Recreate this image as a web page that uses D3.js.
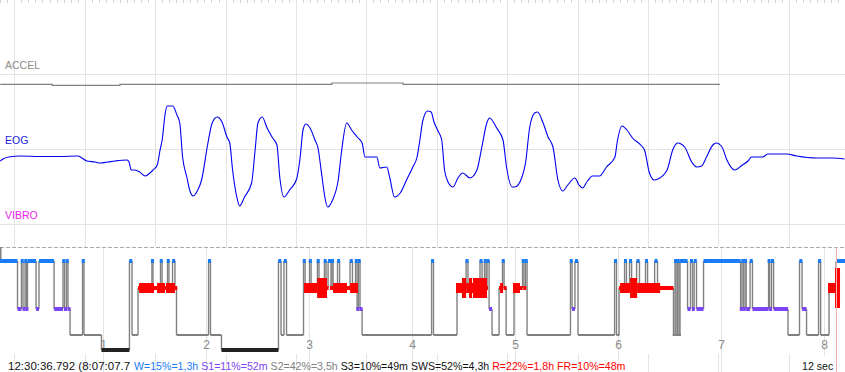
<!DOCTYPE html>
<html>
<head>
<meta charset="utf-8">
<script src="https://cdn.jsdelivr.net/npm/d3@7"></script>
<style>
  body { margin: 0; background: #fff; }
  svg { display: block; font-family: "Liberation Sans", Arial, sans-serif; }
</style>
</head>
<body>
<svg id="chart"></svg>
<script>
// ---- data ----
// 12 second window, seconds from the first full second on screen
const accelSamples = [[-0.2, 0], [0.54, -1], [1.5, 0], [4.51, 1.3], [5.52, 0], [10.02, 0]];

const eogSamples = [
  [-0.20,-48],[-0.16,-40],[-0.06,-31],[0.08,-28],[0.37,-30],[0.65,-30],[0.90,-28],[0.96,-36],
  [1.03,-48],[1.15,-52],[1.22,-56],[1.33,-52],[1.43,-48],[1.60,-44],[1.63,-52],[1.66,-84],
  [1.71,-84],[1.78,-92],[1.86,-108],[1.91,-100],[1.97,-84],[2.03,-64],[2.07,-4],[2.10,36],
  [2.14,136],[2.17,172],[2.25,172],[2.31,136],[2.35,104],[2.39,-32],[2.45,-112],[2.49,-164],
  [2.54,-188],[2.59,-172],[2.66,-124],[2.74,8],[2.81,104],[2.88,128],[2.95,108],[3.02,48],
  [3.06,24],[3.10,-84],[3.16,-192],[3.20,-228],[3.27,-192],[3.37,-136],[3.42,-4],[3.46,104],
  [3.52,128],[3.59,84],[3.66,48],[3.73,16],[3.77,-112],[3.83,-192],[3.91,-164],[4.01,-120],
  [4.06,-32],[4.10,76],[4.14,100],[4.20,84],[4.27,36],[4.31,8],[4.37,-112],[4.41,-192],
  [4.45,-232],[4.52,-204],[4.60,-124],[4.65,-4],[4.72,104],[4.79,76],[4.87,48],[4.94,24],
  [4.98,-32],[5.15,-32],[5.19,-76],[5.29,-72],[5.33,-112],[5.40,-192],[5.48,-176],[5.57,-124],
  [5.66,-72],[5.72,-32],[5.76,36],[5.80,112],[5.87,152],[5.92,148],[5.96,108],[6.01,76],
  [6.07,36],[6.11,-84],[6.16,-132],[6.23,-152],[6.30,-116],[6.37,-96],[6.47,-116],[6.57,-84],
  [6.64,8],[6.71,104],[6.75,124],[6.85,84],[6.94,36],[6.99,-72],[7.07,-152],[7.11,-152],
  [7.21,-112],[7.26,-56],[7.32,88],[7.39,144],[7.43,148],[7.51,104],[7.58,48],[7.65,8],
  [7.72,-124],[7.79,-168],[7.86,-144],[7.96,-116],[8.02,-144],[8.07,-156],[8.14,-128],[8.21,-108],
  [8.31,-108],[8.41,-72],[8.53,-32],[8.56,24],[8.63,92],[8.70,76],[8.78,44],[8.91,12],
  [8.95,-4],[9.02,-96],[9.09,-124],[9.14,-120],[9.27,-84],[9.35,-4],[9.42,24],[9.52,8],
  [9.62,-52],[9.69,-72],[9.76,-68],[9.83,-32],[9.92,16],[9.97,24],[10.05,8],[10.12,-44],
  [10.23,-84],[10.34,-64],[10.42,-48],[10.47,-32],[10.63,-32],[10.70,-20],[10.97,-20],[11.11,-28],
  [11.39,-36],[11.62,-36],[11.79,-40]
];

const channelNames = ["ACCEL", "EOG", "VIBRO"];

// hypnogram: [start minute, stage]; each run lasts until the next one starts
const stageNames = ["W", "R", "S1", "S2", "S3"];
const recordEnd = 492.2;
const hypnoRuns = [
  [0,"W"],[10.2,"S1"],[12.5,"W"],[13.4,"S1"],[14.6,"W"],[15.4,"S1"],[16.0,"W"],[21.0,"S1"],
  [22.7,"W"],[31.5,"S1"],[36.7,"W"],[37.6,"S1"],[38.7,"W"],[39.6,"S1"],[40.8,"S2"],[48.1,"W"],
  [48.9,"S2"],[59.1,"S3"],[75.4,"W"],[76.9,"S2"],[80.4,"R"],[88.5,"W"],[89.1,"R"],[93.5,"W"],
  [94.4,"R"],[97.6,"W"],[98.4,"R"],[100.5,"W"],[101.9,"R"],[102.8,"S2"],[121.5,"W"],[122.6,"S2"],
  [129.0,"S3"],[162.2,"W"],[163.7,"S2"],[165.4,"W"],[166.9,"S2"],[176.8,"W"],[177.7,"R"],[180.3,"W"],
  [181.2,"R"],[184.9,"W"],[185.8,"R"],[189.0,"W"],[189.9,"R"],[191.1,"W"],[192.8,"R"],[193.4,"W"],
  [194.0,"R"],[196.6,"W"],[197.8,"R"],[203.9,"W"],[205.3,"R"],[207.1,"W"],[208.0,"S1"],[208.8,"W"],
  [209.7,"S1"],[210.9,"S2"],[251.4,"W"],[252.5,"S2"],[266.2,"R"],[271.5,"W"],[272.6,"R"],[279.6,"W"],
  [280.8,"R"],[282.2,"W"],[283.1,"R"],[283.7,"W"],[284.9,"S1"],[286.6,"S2"],[290.7,"R"],[292.7,"W"],
  [293.6,"R"],[294.8,"S2"],[299.4,"R"],[304.4,"W"],[305.2,"R"],[306.1,"W"],[307.0,"S2"],[332.3,"W"],
  [333.2,"S1"],[334.9,"W"],[336.7,"S2"],[358.0,"W"],[359.1,"S2"],[360.6,"R"],[363.8,"W"],[364.9,"R"],
  [366.7,"W"],[367.9,"R"],[370.8,"W"],[372.5,"R"],[376.0,"W"],[377.2,"R"],[381.3,"W"],[383.0,"R"],
  [392.3,"S2"],[393.2,"W"],[393.8,"S2"],[394.7,"W"],[395.5,"S2"],[396.1,"W"],[400.5,"S1"],[402.2,"W"],
  [403.4,"S1"],[404.3,"W"],[405.7,"S1"],[409.8,"W"],[431.4,"S1"],[432.2,"W"],[433.1,"S1"],[434.0,"W"],
  [434.6,"S1"],[436.9,"W"],[438.3,"S1"],[447.7,"W"],[448.3,"S1"],[449.4,"W"],[450.6,"S1"],[459.0,"S2"],
  [465.7,"W"],[467.2,"S1"],[469.8,"S2"],[476.8,"W"],[478.0,"S2"],[482.9,"R"],[487.0,"W"]
];

// REM intensity blocks: [start minute, end minute, level 1..3]
const remDensity = [
  [81.0,89.7,1],[91.5,96.1,1],[96.7,101.9,1],[177.1,184.7,1],[184.7,190.5,2],[194.0,202.1,1],
  [203.9,208.5,1],[265.6,269.1,1],[269.1,271.5,2],[271.5,273.2,1],[273.2,274.9,2],[274.9,275.5,1],
  [275.5,283.7,2],[291.3,293.0,1],[298.8,302.9,1],[361.2,367.0,1],[367.0,371.1,2],[371.1,384.5,1],
  [482.3,486.4,1],[486.4,489.3,3]
];

const hourTicks = [1, 2, 3, 4, 5, 6, 7, 8];
const cursorMinute = 487.13;
const cursorLabel = "12:30:36.792 (8:07:07.7";
const summaryLabels = ["W=15%=1,3h", "S1=11%=52m", "S2=42%=3,5h", "S3=10%=49m", "SWS=52%=4,3h", "R=22%=1,8h", "FR=10%=48m"];
const summaryColors = ["#1a7cf5", "#7b44f5", "#808080", "#111", "#111", "#ff0000", "#ff0000"];
const windowLabel = "12 sec";

// ---- layout ----
const width = 845, height = 372;
const hypTop = 247, hypBottom = 354;

const svg = d3.select("#chart").attr("width", width).attr("height", height);

const xSec = d3.scaleLinear().domain([-0.203, 11.797]).range([0, width]);
const xMin = d3.scaleLinear().domain([0, recordEnd]).range([0, width]);
const yAccel = d3.scaleLinear().domain([-10, 10]).range([94.3, 74.3]);
const yEog = d3.scaleLinear().domain([-300, 300]).range([224, 74]);
const yStage = d3.scaleOrdinal().domain(stageNames).range([261, 288, 309, 335, 350]);
const stageColor = d3.scaleOrdinal().domain(stageNames)
  .range(["#1a7cf5", "#ff0000", "#7b44f5", "#808080", "#222222"]);
const stageThick = { W: 4, R: 4, S1: 4, S2: 2, S3: 4 };

const px = (v) => Math.round(v) + 0.5;

// second grid lines (full height, hidden under the hypnogram panel)
svg.append("g")
  .selectAll("line")
  .data(d3.range(0, 12))
  .join("line")
  .attr("x1", (d) => px(xSec(d)))
  .attr("x2", (d) => px(xSec(d)))
  .attr("y1", 0)
  .attr("y2", height)
  .attr("stroke", "#e4e4e4");

// tenths ticks at the top
svg.append("g")
  .selectAll("line")
  .data(d3.range(-2, 118).filter((i) => i % 10 !== 0).map((i) => i / 10))
  .join("line")
  .attr("x1", (d) => px(xSec(d)))
  .attr("x2", (d) => px(xSec(d)))
  .attr("y1", 0)
  .attr("y2", 3)
  .attr("stroke", "#d4d4d4");

// channel baselines
svg.append("g")
  .selectAll("line")
  .data([-300, 0, 300])
  .join("line")
  .attr("x1", 0)
  .attr("x2", width)
  .attr("y1", (d) => px(yEog(d)))
  .attr("y2", (d) => px(yEog(d)))
  .attr("stroke", "#e4e4e4");

// channel labels
svg.append("g")
  .selectAll("text")
  .data(channelNames)
  .join("text")
  .attr("x", 5)
  .attr("y", (d, i) => [69, 144, 219][i])
  .attr("font-size", 10.5)
  .attr("fill", (d, i) => ["#8f8a86", "#2222dd", "#ee22ee"][i])
  .text((d) => d);

// ACCEL trace
svg.append("path")
  .datum(accelSamples)
  .attr("fill", "none")
  .attr("stroke", "#808080")
  .attr("stroke-width", 1.2)
  .attr("d", d3.line().curve(d3.curveStepAfter).x((d) => xSec(d[0])).y((d) => yAccel(d[1])));

// EOG trace
svg.append("path")
  .datum(eogSamples)
  .attr("fill", "none")
  .attr("stroke", "#0000f0")
  .attr("stroke-width", 1.1)
  .attr("d", d3.line().curve(d3.curveMonotoneX).x((d) => xSec(d[0])).y((d) => yEog(d[1])));

// ---- hypnogram panel ----
svg.append("rect")
  .attr("x", 0)
  .attr("y", hypTop)
  .attr("width", width)
  .attr("height", hypBottom - hypTop)
  .attr("fill", "#fff");

// hour grid
svg.append("g")
  .selectAll("line")
  .data(hourTicks)
  .join("line")
  .attr("x1", (d) => px(xMin(d * 60)))
  .attr("x2", (d) => px(xMin(d * 60)))
  .attr("y1", hypTop)
  .attr("y2", height)
  .attr("stroke", "#e4e4e4");

svg.append("line")
  .attr("x1", 0)
  .attr("x2", width)
  .attr("y1", hypTop + 0.5)
  .attr("y2", hypTop + 0.5)
  .attr("stroke", "#aaaaaa")
  .attr("stroke-dasharray", "4,2");

// hour labels
const hourAxis = svg.append("g")
  .attr("transform", "translate(0,337)")
  .call(d3.axisBottom(xMin).tickValues(hourTicks.map((h) => h * 60)).tickSize(0).tickPadding(3).tickFormat((m) => m / 60));
hourAxis.select(".domain").remove();
hourAxis.selectAll("text").attr("font-size", 12).attr("fill", "#8a8a8a").attr("font-family", "Liberation Sans, Arial, sans-serif");

const runs = hypnoRuns.map((d, i) => ({
  start: d[0],
  end: i < hypnoRuns.length - 1 ? hypnoRuns[i + 1][0] : recordEnd,
  stage: d[1],
}));

// connectors
const hyp = svg.append("g");
hyp.append("line")
  .attr("x1", 0.75).attr("x2", 0.75)
  .attr("y1", hypTop).attr("y2", yStage("W"))
  .attr("stroke", "#808080").attr("stroke-width", 1.5);

hyp.selectAll(".step")
  .data(runs.slice(1).map((r, i) => ({ x: r.start, from: runs[i].stage, to: r.stage })))
  .join("line")
  .attr("class", "step")
  .attr("x1", (d) => xMin(d.x))
  .attr("x2", (d) => xMin(d.x))
  .attr("y1", (d) => yStage(d.from))
  .attr("y2", (d) => yStage(d.to))
  .attr("stroke", "#808080")
  .attr("stroke-width", 1.4);

// stage bars, short runs get a minimum width
const minW = 3;
hyp.selectAll(".run")
  .data(runs)
  .join("rect")
  .attr("class", "run")
  .attr("x", (d) => {
    const a = xMin(d.start), b = xMin(d.end);
    return b - a < minW ? (a + b) / 2 - minW / 2 : a;
  })
  .attr("width", (d) => Math.max(minW, xMin(d.end) - xMin(d.start)))
  .attr("y", (d) => yStage(d.stage) - stageThick[d.stage] / 2)
  .attr("height", (d) => stageThick[d.stage])
  .attr("fill", (d) => stageColor(d.stage));

// REM intensity
hyp.selectAll(".rem")
  .data(remDensity)
  .join("rect")
  .attr("class", "rem")
  .attr("x", (d) => xMin(d[0]))
  .attr("width", (d) => Math.max(minW, xMin(d[1]) - xMin(d[0])))
  .attr("y", (d) => yStage("R") - [0, 5, 10, 20][d[2]])
  .attr("height", (d) => [0, 10, 20, 40][d[2]])
  .attr("fill", stageColor("R"));

// cursor
svg.append("line")
  .attr("x1", px(xMin(cursorMinute)))
  .attr("x2", px(xMin(cursorMinute)))
  .attr("y1", hypTop)
  .attr("y2", height)
  .attr("stroke", "#f4b0b0");

// ---- status row ----
svg.append("clipPath").attr("id", "clipTime")
  .append("rect").attr("x", 0).attr("y", 350).attr("width", 131).attr("height", 22);

svg.append("text")
  .attr("clip-path", "url(#clipTime)")
  .attr("x", 8)
  .attr("y", 370)
  .attr("font-size", 11.5)
  .attr("fill", "#111")
  .text(cursorLabel);

let cx = 134;
const summary = svg.append("g");
summaryLabels.forEach((s, i) => {
  const t = summary.append("text")
    .attr("x", cx)
    .attr("y", 370)
    .attr("font-size", 10.6)
    .attr("fill", summaryColors[i])
    .text(s);
  cx += t.node().getComputedTextLength() + 3;
});

svg.append("rect")
  .attr("x", 800)
  .attr("y", 356)
  .attr("width", 35)
  .attr("height", 16)
  .attr("fill", "#fff");

svg.append("text")
  .attr("x", 802)
  .attr("y", 370)
  .attr("font-size", 10.6)
  .attr("fill", "#111")
  .text(windowLabel);
</script>
</body>
</html>
